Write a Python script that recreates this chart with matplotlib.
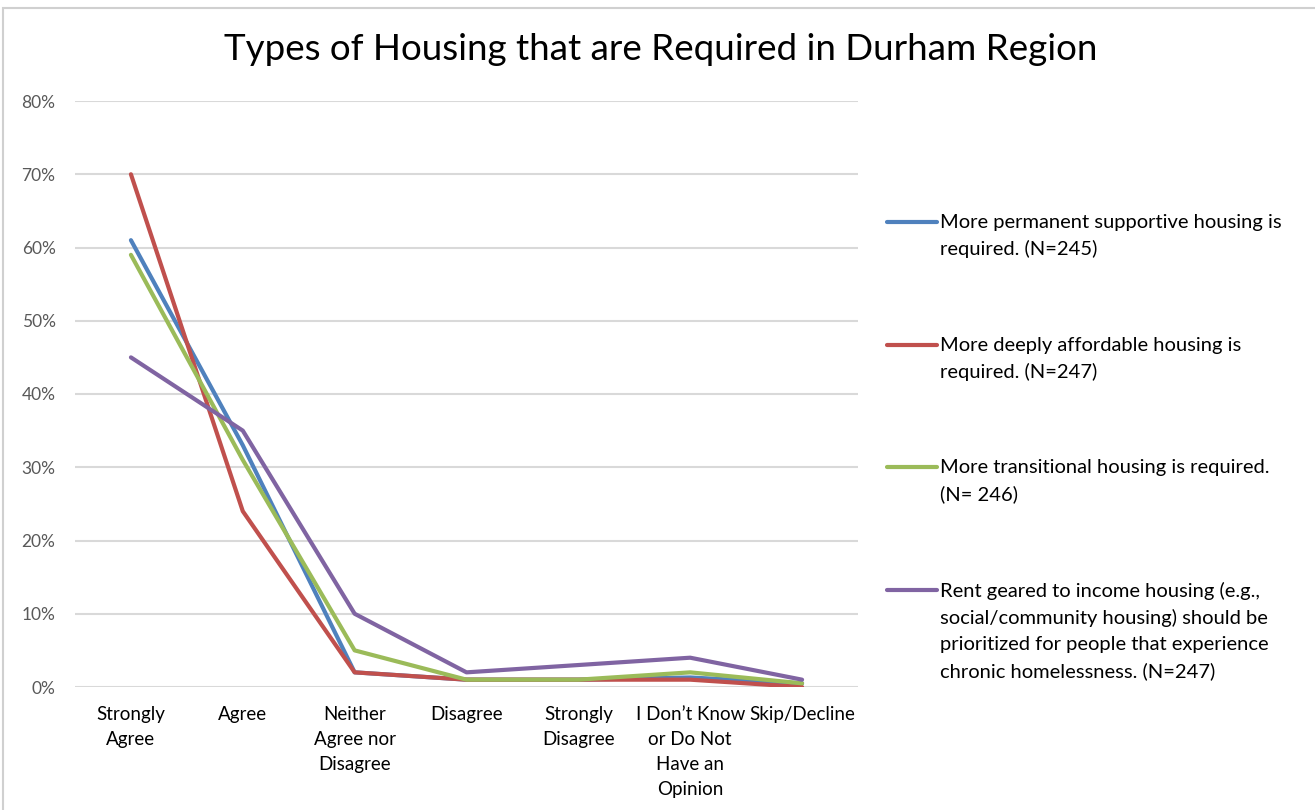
import matplotlib
matplotlib.use("Agg")
import matplotlib.pyplot as plt
from matplotlib.lines import Line2D
from matplotlib.patches import Rectangle
from matplotlib.ticker import PercentFormatter

categories = ["Strongly\nAgree", "Agree", "Neither\nAgree nor\nDisagree", "Disagree",
              "Strongly\nDisagree", "I Don\u2019t Know\nor Do Not\nHave an\nOpinion", "Skip/Decline"]

permanent_supportive = [61, 33, 2, 1, 1, 1.3, 0.5]
deeply_affordable = [70, 24, 2, 1, 1, 1, 0]
transitional = [59, 31, 5, 1, 1, 2, 0.5]
rent_geared = [45, 35, 10, 2, 3, 4, 1]

series_labels = [
    "More permanent supportive housing is\nrequired. (N=245)",
    "More deeply affordable housing is\nrequired. (N=247)",
    "More transitional housing is required.\n(N= 246)",
    "Rent geared to income housing (e.g.,\nsocial/community housing) should be\nprioritized for people that experience\nchronic homelessness. (N=247)",
]
series_values = [permanent_supportive, deeply_affordable, transitional, rent_geared]
colors = ["#4F81BD", "#C0504D", "#9BBB59", "#8064A2"]

y_ticks = [0, 10, 20, 30, 40, 50, 60, 70, 80]

plt.rcParams['font.family'] = ['Lato', 'DejaVu Sans']

fig = plt.figure(figsize=(13.15, 8.1), dpi=100)
ax = fig.add_axes([75/1315, 1-687/810, (858-75)/1315, (687-101)/810])

x = list(range(len(categories)))
for vals, c in zip(series_values, colors):
    ax.plot(x, vals, color=c, lw=3.0, solid_capstyle='round', solid_joinstyle='round', zorder=3)

ax.set_xlim(-0.5, len(categories) - 0.5)
ax.set_ylim(0, 80)
ax.set_yticks(y_ticks)
ax.yaxis.set_major_formatter(PercentFormatter(decimals=0))
ax.set_xticks(x)
ax.set_xticklabels(categories, linespacing=1.57)
ax.tick_params(axis='both', length=0, colors='#000000')
ax.tick_params(axis='x', labelsize=13.5, pad=14)
ax.tick_params(axis='y', labelsize=12.5, labelcolor='#595959', pad=14)
ax.grid(axis='y', color='#D9D9D9', lw=1.5, zorder=0)
for s in ax.spines.values():
    s.set_visible(False)

fig.text(661/1315, 1-50/810, "Types of Housing that are Required in Durham Region",
         ha='center', va='center', fontsize=26.5, color='#000000')

# legend
y0 = 222
step = 122.5
for i, (lab, c) in enumerate(zip(series_labels, colors)):
    yy = 1 - (y0 + i*step)/810
    fig.add_artist(Line2D([887/1315, 937/1315], [yy, yy], color=c, lw=3.0,
                          solid_capstyle='round', transform=fig.transFigure))
    fig.text(940/1315, yy + 8/810, lab, ha='left', va='top', fontsize=14.5,
             color='#000000', linespacing=1.62)

fig.add_artist(Rectangle((0.002, -0.01), 1.2, 1.0, transform=fig.transFigure,
                         fill=False, edgecolor='#D0D0D0', lw=1.5))

fig.savefig("out.png", dpi=100)
